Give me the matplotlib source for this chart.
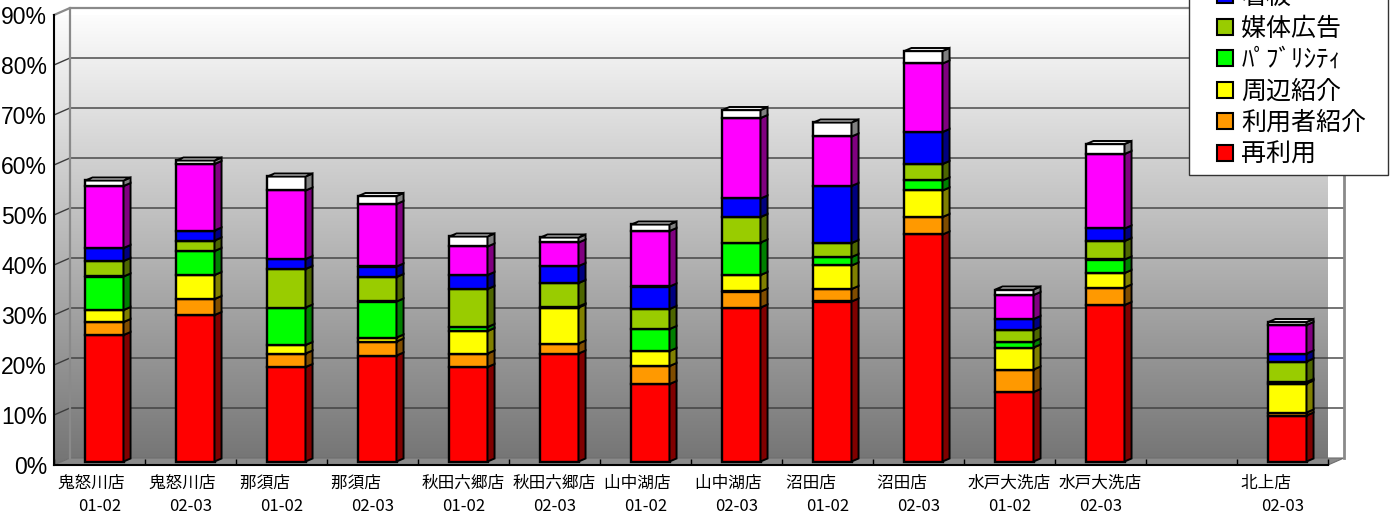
import numpy as np
import matplotlib
matplotlib.use('Agg')
import matplotlib.pyplot as plt
from matplotlib.patches import Polygon
from matplotlib.lines import Line2D
from matplotlib.colors import LinearSegmentedColormap

plt.rcParams['font.family'] = ['Noto Sans CJK JP', 'DejaVu Sans']

# categories (slot 13 is an empty gap in the original chart)
shops = ['鬼怒川店', '鬼怒川店', '那須店', '那須店', '秋田六郷店', '秋田六郷店', '山中湖店',
         '山中湖店', '沼田店', '沼田店', '水戸大洗店', '水戸大洗店', '', '北上店']
periods = ['01-02', '02-03', '01-02', '02-03', '01-02', '02-03', '01-02',
           '02-03', '01-02', '02-03', '01-02', '02-03', '', '02-03']

# series, bottom to top (percent)
reuse    = [25.3, 29.3, 18.9, 21.2, 18.9, 21.6, 15.5, 30.8, 32.0, 45.4, 13.9, 31.3, None, 9.2]
user_ref = [2.6, 3.2, 2.7, 2.8, 2.7, 2.0, 3.6, 3.2, 2.5, 3.5, 4.5, 3.5, None, 0.6]
area_ref = [2.4, 4.8, 1.7, 0.8, 4.5, 7.2, 3.0, 3.3, 4.7, 5.3, 4.4, 2.9, None, 5.8]
publicity = [6.7, 4.8, 7.5, 7.2, 0.8, 0.2, 4.4, 6.5, 1.7, 2.0, 1.2, 2.7, None, 0.3]
media_ad = [3.1, 2.1, 7.7, 4.9, 7.6, 4.7, 4.0, 5.1, 2.8, 3.3, 2.3, 3.7, None, 4.1]
signboard = [2.6, 2.0, 2.0, 2.1, 2.8, 3.4, 4.5, 3.7, 11.4, 6.4, 2.2, 2.5, None, 1.6]
flyer    = [12.4, 13.3, 13.7, 12.5, 5.7, 4.7, 11.1, 16.1, 9.9, 13.7, 4.8, 14.9, None, 5.7]
other    = [1.1, 0.7, 2.8, 1.6, 2.0, 1.0, 1.3, 1.6, 2.8, 2.5, 1.1, 2.0, None, 0.6]

series = [reuse, user_ref, area_ref, publicity, media_ad, signboard, flyer, other]
names = ['再利用', '利用者紹介', '周辺紹介', 'ﾊﾟﾌﾞﾘｼﾃｨ', '媒体広告', '看板', 'チラシ', 'その他']
fronts = ['#ff0000', '#ff9900', '#ffff00', '#00ff00', '#99cc00', '#0000ff', '#ff00ff', '#ffffff']
sides = ['#800000', '#804d00', '#808000', '#008000', '#4d6600', '#000080', '#800080', '#808080']

W, H = 1396, 518
fig = plt.figure(figsize=(W / 100, H / 100), dpi=100)
ax = fig.add_axes([54 / W, (H - 465) / H, (1328 - 54) / W, (465 - 15) / H])

n = len(shops)
ymax = 90
wdx, wdy = 0.176, 1.4      # wall depth
bdx, bdy = 0.077, 0.6      # bar depth
shift, lift = 0.055, 0.7   # bars sit mid-depth
bw = 0.418

# walls with gradient
wall = Polygon([(0, 0), (0, ymax), (wdx, ymax + wdy), (n + wdx, ymax + wdy),
                (n + wdx, wdy), (wdx, wdy)], closed=True, fc='none', ec='none')
ax.add_patch(wall)
cmap = LinearSegmentedColormap.from_list('wall', ['#747474', '#ffffff'])
grad = np.linspace(0, 1, 256).reshape(-1, 1)
im = ax.imshow(grad, extent=(0, n + wdx, 0, ymax + wdy), origin='lower', cmap=cmap,
               aspect='auto', zorder=0, interpolation='bilinear')
im.set_clip_path(wall)

# floor
ax.add_patch(Polygon([(0, 0), (n, 0), (n + wdx, wdy), (wdx, wdy)], closed=True,
                     fc='#8a8a8a', ec='#6e6e6e', lw=0.8, zorder=1, clip_on=False))

# gridlines on back wall and left wall
for v in range(10, ymax, 10):
    ax.plot([0, wdx, n + wdx], [v, v + wdy, v + wdy], color='#3c3c3c', lw=1.0,
            zorder=1, clip_on=False)
ax.plot([0, wdx, n + wdx], [ymax, ymax + wdy, ymax + wdy], color='#8a8a8a', lw=1.6,
        zorder=1, clip_on=False)
ax.plot([wdx, wdx], [wdy, ymax + wdy], color='#8a8a8a', lw=1.6, zorder=1, clip_on=False)
ax.plot([n + wdx, n + wdx], [wdy, ymax + wdy], color='#8a8a8a', lw=2.0, zorder=1,
        clip_on=False)

# stacked 3D bars
xpos = np.arange(n) + 0.5 + shift
bottoms = np.zeros(n)
present = np.array([s != '' for s in shops])
for vals, fc, sc in zip(series, fronts, sides):
    v = np.array([0.0 if x is None else x for x in vals])
    ax.bar(xpos[present], v[present], bw, bottom=bottoms[present] + lift, color=fc,
           edgecolor='black', lw=1.7, zorder=3, clip_on=False)
    for i in np.where(present)[0]:
        x1 = xpos[i] + bw / 2
        y0, y1 = bottoms[i] + lift, bottoms[i] + v[i] + lift
        ax.add_patch(Polygon([(x1, y0), (x1 + bdx, y0 + bdy), (x1 + bdx, y1 + bdy), (x1, y1)],
                             closed=True, fc=sc, ec='black', lw=1.4, zorder=3, clip_on=False))
    bottoms = bottoms + v

for i in np.where(present)[0]:
    x0, x1 = xpos[i] - bw / 2, xpos[i] + bw / 2
    y = bottoms[i] + lift
    ax.add_patch(Polygon([(x0, y), (x1, y), (x1 + bdx, y + bdy), (x0 + bdx, y + bdy)],
                         closed=True, fc='#e8e8e8', ec='black', lw=1.4, zorder=3, clip_on=False))

# axes
ax.set_xlim(0, n)
ax.set_ylim(0, ymax)
for s in ['top', 'right']:
    ax.spines[s].set_visible(False)
ax.spines['left'].set_linewidth(1.5)
ax.spines['bottom'].set_linewidth(1.5)
ax.spines['left'].set_zorder(4)
ax.spines['bottom'].set_zorder(4)

ax.set_yticks(range(0, ymax + 1, 10))
ax.set_yticklabels([f'{v}%' for v in range(0, ymax + 1, 10)], family='Liberation Sans',
                   fontsize=16.5)
ax.tick_params(axis='y', length=0, pad=5)

labels = []
for s, p in zip(shops, periods):
    labels.append(s + '\u3000' * (5 - len(s)) + '\n' + p if s else '')
ax.set_xticks(np.arange(n) + 0.5)
ax.set_xticklabels(labels, fontsize=12, linespacing=1.5)
ax.set_xticks(np.arange(n + 1), minor=True)
ax.tick_params(axis='x', which='major', length=0, pad=7)
ax.tick_params(axis='x', which='minor', direction='in', length=4.3, width=1.0)

# legend (top part falls outside the figure, as in the original)
handles = [Line2D([], [], ls='none', marker='s', ms=12, mfc=fc, mec='black', mew=1.5)
           for fc in fronts[::-1]]
fig.legend(handles, names[::-1], loc='lower left',
           bbox_to_anchor=(1189 / W, 1 - 175 / H, (1388 - 1189) / W, 0.01),
           mode='expand', borderaxespad=0, prop={'size': 18}, frameon=True,
           fancybox=False, edgecolor='#333333', framealpha=1, borderpad=0.3,
           handlelength=2.3, handletextpad=-0.5, labelspacing=0.22)

fig.savefig('out.png', dpi=100)
